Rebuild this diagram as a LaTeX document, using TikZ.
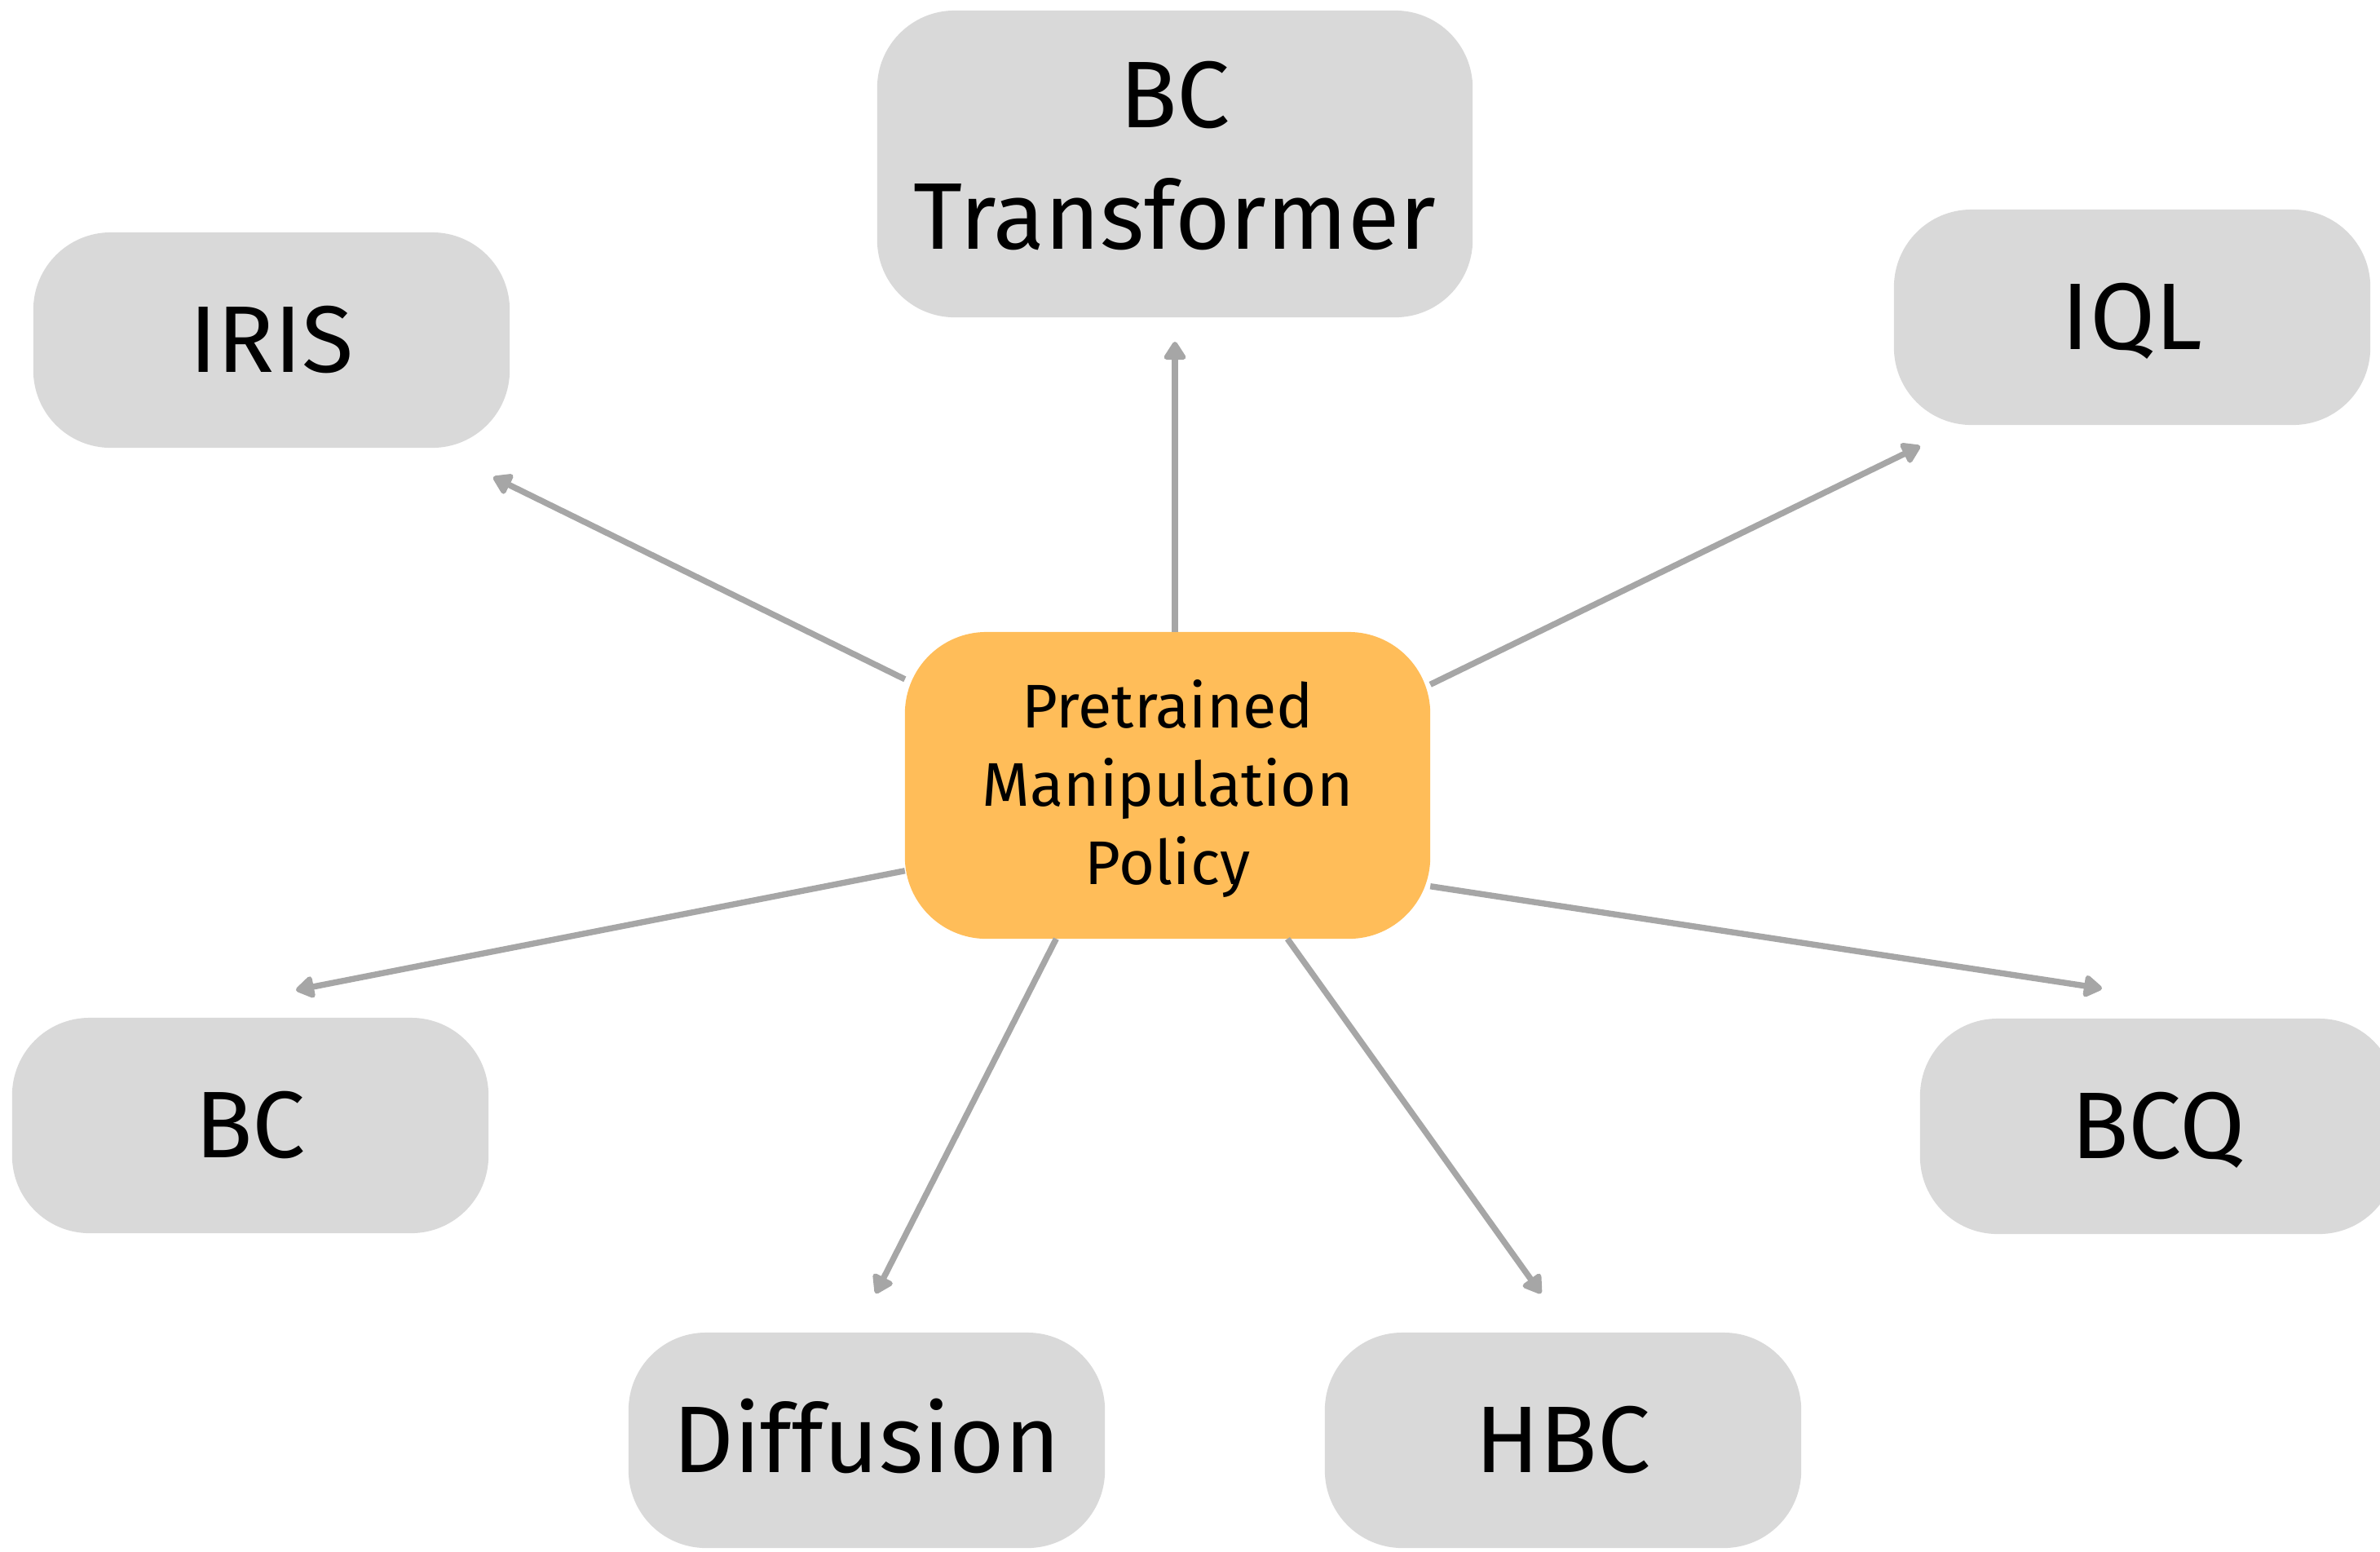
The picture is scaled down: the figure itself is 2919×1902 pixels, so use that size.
\documentclass[tikz,border=0pt]{standalone}
\usepackage{fontspec}
\setmainfont{Fira Sans}
\usetikzlibrary{arrows.meta}
\definecolor{boxgray}{HTML}{D9D9D9}
\definecolor{boxorange}{HTML}{FFBD59}
\definecolor{arrgray}{HTML}{A6A6A6}
\begin{document}
\begin{tikzpicture}[x=0.01cm,y=-0.01cm,
  box/.style={fill=boxgray, rounded corners=0.95cm, minimum width=5.84cm, minimum height=2.64cm, inner sep=0pt, outer sep=0pt, align=center, font=\fontsize{33}{42.4}\selectfont},
  single/.style={text height=22.7pt, text depth=0pt},
  hub/.style={fill=boxorange, rounded corners=1cm, minimum width=6.44cm, minimum height=3.76cm, inner sep=0pt, outer sep=0pt},
  hubtext/.style={align=center, inner sep=0pt, font=\fontsize{21.5}{27.3}\selectfont},
  arr/.style={draw=arrgray, line width=2.1pt, -{Triangle[length=0.25cm,width=0.3cm,round]}}
]
\useasboundingbox (0,0) rectangle (2919,1902);
\node[hub] (c) at (1432,963) {};
\node[hubtext] (ct) at (1432,967) {Pretrained\\Manipulation\\Policy};
\node[box, minimum width=7.3cm, minimum height=3.76cm] (bt) at (1441,201) {BC\\Transformer\rule[-0.22cm]{0pt}{0.22cm}};
\node[box,single] (iris) at (333,417) {IRIS};
\node[box,single] (iql) at (2615,389) {IQL};
\node[box,single] (bc) at (307,1380) {BC};
\node[box,single] (bcq) at (2647,1381) {BCQ};
\node[box,single] (diff) at (1063,1766) {Diffusion};
\node[box,single] (hbc) at (1917,1766) {HBC};
\coordinate (tbt) at (1441,419);
\coordinate (tiris) at (605,585);
\coordinate (tiql) at (2355,547);
\coordinate (tbc) at (363,1214);
\coordinate (tbcq) at (2578,1212);
\coordinate (tdiff) at (1074,1586);
\coordinate (thbc) at (1890,1586);
\draw[arr] (c.north -| tbt) -- (tbt);
\draw[arr] (c.158.6) -- (tiris);
\draw[arr] (c.21.5) -- (tiql);
\draw[arr] (c.198.7) -- (tbc);
\draw[arr] (c.339.3) -- (tbcq);
\draw[arr] (c.234.3) -- (tdiff);
\draw[arr] (c.308.8) -- (thbc);
\end{tikzpicture}
\end{document}
